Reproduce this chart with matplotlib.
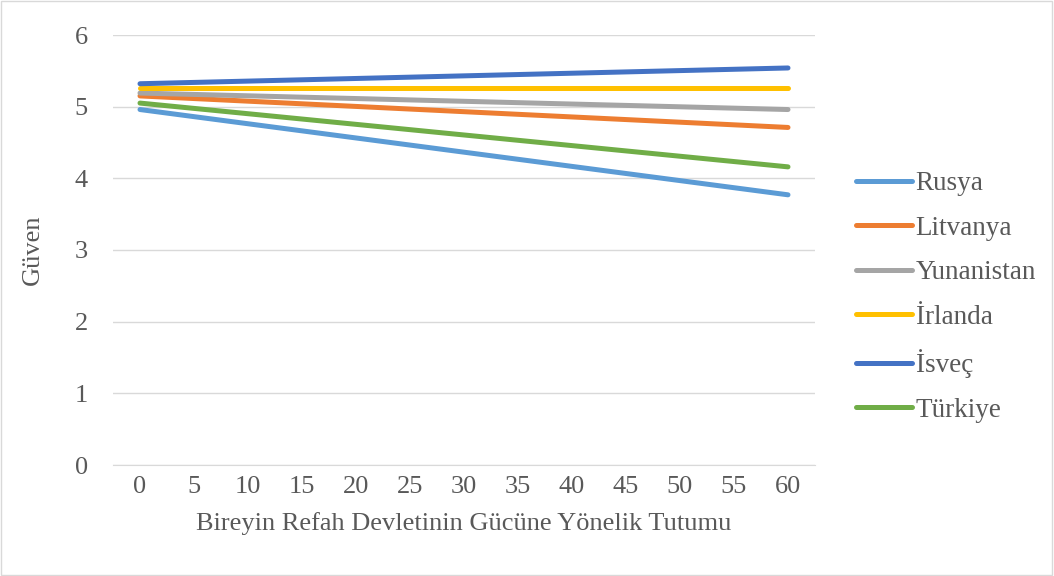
import matplotlib
matplotlib.use("Agg")
import matplotlib.pyplot as plt
from matplotlib.patches import Rectangle

x_vals = [0, 60]
series_names = ["Rusya", "Litvanya", "Yunanistan", "İrlanda", "İsveç", "Türkiye"]
rusya = [4.96, 3.77]
litvanya = [5.15, 4.71]
yunanistan = [5.19, 4.96]
irlanda = [5.26, 5.26]
isvec = [5.32, 5.54]
turkiye = [5.05, 4.16]
colors = ["#5B9BD5", "#ED7D31", "#A5A5A5", "#FFC000", "#4472C4", "#70AD47"]
x_ticks = list(range(0, 61, 5))
y_ticks = [0, 1, 2, 3, 4, 5, 6]

plt.rcParams['font.family'] = ['Liberation Serif', 'DejaVu Serif']
fig = plt.figure(figsize=(10.54, 5.76), dpi=100)
ax = fig.add_axes([113/1054, 1-465/576, (815-113)/1054, (465-35)/576])

data = [rusya, litvanya, yunanistan, irlanda, isvec, turkiye]
for name, vals, c in zip(series_names, data, colors):
    ax.plot(x_vals, vals, color=c, lw=3.6, solid_capstyle='round', label=name)

ax.set_xlim(-2.5, 62.5)
ax.set_ylim(0, 6)
ax.set_xticks(x_ticks)
ax.set_yticks(y_ticks)
ax.grid(axis='y', color='#D9D9D9', lw=1)
ax.set_axisbelow(True)
for s in ['top', 'right', 'left']:
    ax.spines[s].set_visible(False)
ax.spines['bottom'].set_color('#D9D9D9')
ax.tick_params(axis='x', length=0, labelsize=19, colors='#595959', pad=8)
ax.tick_params(axis='y', length=0, labelsize=19, colors='#595959', pad=18)
ax.set_xlabel("Bireyin Refah Devletinin Gücüne Yönelik Tutumu", fontsize=19, color='#595959', labelpad=10)
ax.set_ylabel("Güven", fontsize=19, color='#595959', labelpad=22)

leg = fig.legend(loc='upper left', bbox_to_anchor=(848/1054, 1-163/576), frameon=False,
                 fontsize=19.5, labelcolor='#595959', handlelength=2.05, handletextpad=0.15,
                 labelspacing=0.72, borderaxespad=0, borderpad=0.3)

fig.patches.append(Rectangle((0.001, 0.001), 0.997, 0.997, transform=fig.transFigure,
                             fill=False, edgecolor='#D9D9D9', lw=1))
fig.savefig("out.png", dpi=100)
